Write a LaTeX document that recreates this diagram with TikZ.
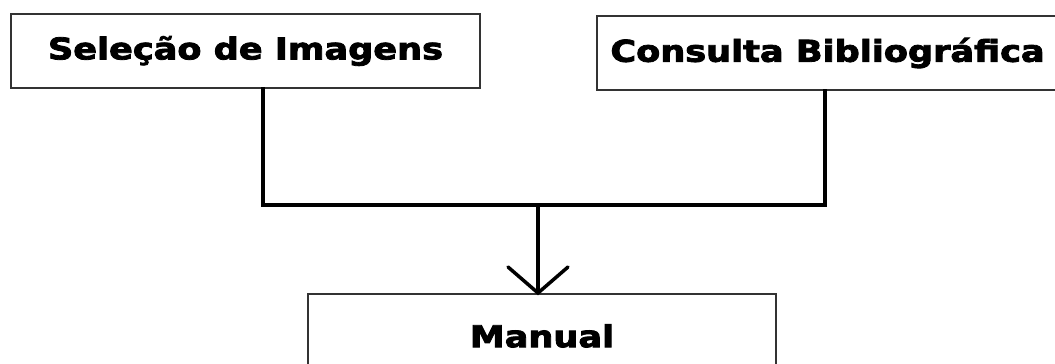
\documentclass[tikz,border=0pt]{standalone}
\usepackage{fontspec}
\usetikzlibrary{calc}
\newfontfamily\boxfont{DejaVu Sans}[FakeBold=2.6]
\newcommand{\boxtext}[1]{\scalebox{1.17}[1]{\bfseries #1}}
\tikzset{
  x=1pt, y=1pt,
  stagebox/.style={draw=black!80, line width=2pt, fill=white, inner sep=0pt,
    font=\boxfont\fontsize{30}{36}\selectfont},
  conn/.style={line width=4.5pt, line cap=rect, line join=miter},
  wing/.style={line width=3.5pt, line cap=round, line join=miter},
}
\begin{document}
\begin{tikzpicture}
  \clip (0,0) rectangle (1055,364);
  \fill[white] (0,0) rectangle (1055,364);

  % the three stages
  \node[stagebox, minimum width=469pt, minimum height=74pt] (sel) at (245.5,313) {\boxtext{Seleção de Imagens}};
  \node[stagebox, minimum width=461pt, minimum height=74pt] (con) at (827.5,311) {\boxtext{Consulta Bibliográfica}};
  \node[stagebox, minimum width=468pt, minimum height=84pt] (man) at (542,28) {\boxtext{Manual}};

  % junction points of the connector
  \coordinate (jl) at (263,159);
  \coordinate (jr) at (825,159);
  \coordinate (jm) at (538,159);
  \coordinate (tip) at (man.north -| jm);

  % merging connector
  \draw[conn] (sel.south -| jl) -- (jl) -- (jr) -- (con.south -| jr);
  \draw[line width=4.5pt] (jm) -- (tip);
  \draw[wing] ($(tip)+(-30,26)$) -- (tip) -- ($(tip)+(30,26)$);
\end{tikzpicture}
\end{document}
